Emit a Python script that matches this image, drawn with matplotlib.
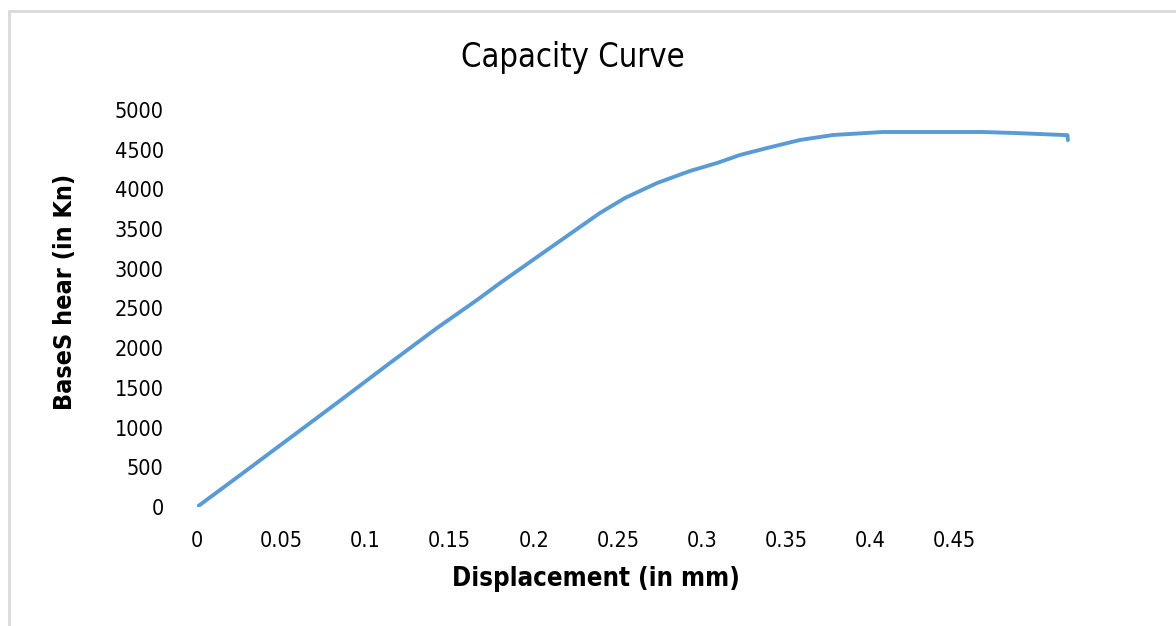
import matplotlib
matplotlib.use("Agg")
import matplotlib.pyplot as plt
from matplotlib.patches import Rectangle

# Data
displacement = [0.0, 0.0273, 0.0552, 0.0831, 0.1146, 0.1425, 0.1663, 0.180, 0.2096,
                0.2393, 0.2542, 0.2732, 0.2928, 0.3088, 0.3224, 0.3385, 0.358,
                0.3777, 0.4074, 0.4667, 0.487, 0.517, 0.5172]
base_shear = [0, 428, 869, 1310, 1814, 2254, 2607, 2821, 3262,
              3703, 3892, 4080, 4232, 4332, 4433, 4521, 4622,
              4685, 4723, 4723, 4709, 4683, 4620]

x_ticks = [0, 0.05, 0.1, 0.15, 0.2, 0.25, 0.3, 0.35, 0.4, 0.45]
x_tick_labels = ["0", "0.05", "0.1", "0.15", "0.2", "0.25", "0.3", "0.35", "0.4", "0.45"]
y_ticks = [0, 500, 1000, 1500, 2000, 2500, 3000, 3500, 4000, 4500, 5000]

title = "Capacity Curve"
x_label = "Displacement (in mm)"
y_label = "BaseS hear (in Kn)"

W, H = 1176, 626
fig = plt.figure(figsize=(W / 100, H / 100), dpi=100)
fig.patch.set_facecolor("white")

fam = ["DejaVu Sans"]
stretch = "condensed"

# chart border
fig.patches.append(Rectangle((9 / W, -0.1), 1.2, (H - 11) / H + 0.1,
                             transform=fig.transFigure, fill=False,
                             edgecolor="#d9d9d9", linewidth=2))

left_px, right_px = 197, 1081
bottom_px, top_px = 507, 110
ax = fig.add_axes([left_px / W, (H - bottom_px) / H,
                   (right_px - left_px) / W, (bottom_px - top_px) / H])
ax.plot(displacement, base_shear, color="#5B9BD5", linewidth=2.8,
        solid_capstyle="round", solid_joinstyle="round")
ax.set_xlim(0, 0.525)
ax.set_ylim(0, 5000)
for s in ax.spines.values():
    s.set_visible(False)
ax.set_xticks(x_ticks)
ax.set_xticklabels(x_tick_labels)
ax.set_yticks(y_ticks)
ax.tick_params(axis="both", length=0, labelsize=15.5, labelcolor="#000000")
ax.tick_params(axis="x", pad=17)
ax.tick_params(axis="y", pad=24)
for lab in ax.get_xticklabels() + ax.get_yticklabels():
    lab.set_family(fam)
    lab.set_stretch(stretch)

fig.text(573 / W, 1 - 58 / H, title, ha="center", va="center",
         fontsize=23.5, family=fam, stretch=stretch, color="#000000")
fig.text(596 / W, 1 - 579 / H, x_label, ha="center", va="center",
         fontsize=18.5, fontweight="bold", family=fam, stretch=stretch, color="#000000")
fig.text(65 / W, 1 - 292 / H, y_label, ha="center", va="center", rotation=90,
         fontsize=18, fontweight="bold", family=fam, stretch=stretch, color="#000000")

fig.savefig("out.png", dpi=100, facecolor="white")
